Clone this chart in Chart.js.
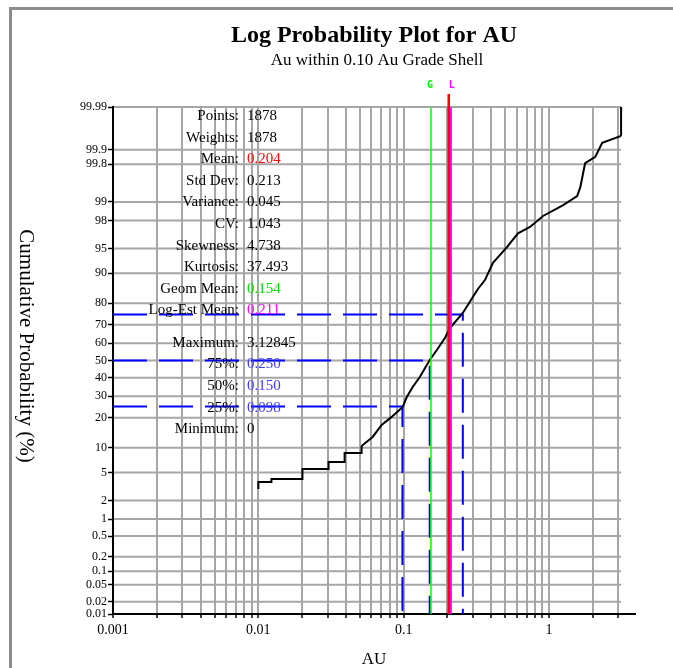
<!DOCTYPE html>
<html>
<head>
<meta charset="utf-8">
<title>Log Probability Plot for AU</title>
<script src="https://cdn.jsdelivr.net/npm/chart.js@4.4.1/dist/chart.umd.min.js"></script>
<style>
  html, body { margin: 0; padding: 0; background: #fff; }
  #wrap { position: relative; width: 673px; height: 668px; overflow: hidden; }
  #frame { position: absolute; left: 9px; top: 7px; width: 700px; height: 700px;
           border-left: 3px solid #8c8c8c; border-top: 3px solid #8c8c8c; }
  canvas { position: absolute; left: 0; top: 0; }
</style>
</head>
<body>
<div id="wrap">
  <div id="frame"></div>
  <canvas id="probChart" width="673" height="668"></canvas>
</div>
<script>
// cumulative curve: AU grade and cumulative %
// low end is a staircase of repeated detection-limit values
const lowAu  = [0.01, 0.01, 0.0123, 0.0201, 0.0304, 0.0392, 0.0513];
const lowPct = [2.98, 3.74, 4.11, 5.58, 6.84, 8.75, 10.5];
const highAu  = [0.0513, 0.0611, 0.0705, 0.0826, 0.0984, 0.105, 0.1153, 0.129, 0.151, 0.169, 0.192, 0.208,
                 0.255, 0.299, 0.324, 0.362, 0.411, 0.513, 0.611, 0.739, 0.909, 1.25, 1.56, 1.64, 1.77,
                 2.08, 2.32, 3.09, 3.128, 3.128];
const highPct = [10.5, 13.1, 17.2, 20.4, 24.8, 29.6, 34.9, 40.4, 50.3, 56.1, 62.9, 68.3,
                 75.7, 82.4, 85.3, 88.1, 92.4, 95.2, 96.9, 97.5, 98.3, 98.87, 99.21, 99.45, 99.81,
                 99.86, 99.93, 99.95, 99.953, 99.99];

// quartile guide lines
const quartilePct = [25, 50, 75];
const quartileAu  = [0.098, 0.151, 0.255];

// vertical marker lines
const meanAu = 0.204;
const geomMeanAu = 0.154;
const logEstMeanAu = 0.211;
const maxAu = 3.12845;

// statistics box
const statLabels = ['Points:', 'Weights:', 'Mean:', 'Std Dev:', 'Variance:', 'CV:', 'Skewness:', 'Kurtosis:',
                    'Geom Mean:', 'Log-Est Mean:', 'Maximum:', '75%:', '50%:', '25%:', 'Minimum:'];
const statValues = ['1878', '1878', '0.204', '0.213', '0.045', '1.043', '4.738', '37.493',
                    '0.154', '0.211', '3.12845', '0.250', '0.150', '0.098', '0'];

// axes
const probTicks = [0.01, 0.02, 0.05, 0.1, 0.2, 0.5, 1, 2, 5, 10, 20, 30, 40, 50, 60, 70, 80, 90, 95, 98, 99, 99.8, 99.9, 99.99];
const auLabels = [0.001, 0.01, 0.1, 1];
const auMin = 0.001, auMax = 3.9;
const pctMin = 0.01, pctMax = 99.99;

// inverse normal cdf (Acklam), used to place % on the probability axis
function probit(p) {
  const a = [-39.69683028665376, 220.9460984245205, -275.9285104469687, 138.3577518672690, -30.66479806614716, 2.506628277459239];
  const b = [-54.47609879822406, 161.5858368580409, -155.6989798598866, 66.80131188771972, -13.28068155288572];
  const c = [-0.007784894002430293, -0.3223964580411365, -2.400758277161838, -2.549732539343734, 4.374664141464968, 2.938163982698783];
  const d = [0.007784695709041462, 0.3224671290700398, 2.445134137142996, 3.754408661907416];
  const pl = 0.02425;
  let q, r;
  if (p < pl) {
    q = Math.sqrt(-2 * Math.log(p));
    return (((((c[0]*q+c[1])*q+c[2])*q+c[3])*q+c[4])*q+c[5]) / ((((d[0]*q+d[1])*q+d[2])*q+d[3])*q+1);
  }
  if (p <= 1 - pl) {
    q = p - 0.5; r = q * q;
    return (((((a[0]*r+a[1])*r+a[2])*r+a[3])*r+a[4])*r+a[5])*q / (((((b[0]*r+b[1])*r+b[2])*r+b[3])*r+b[4])*r+1);
  }
  q = Math.sqrt(-2 * Math.log(1 - p));
  return -(((((c[0]*q+c[1])*q+c[2])*q+c[3])*q+c[4])*q+c[5]) / ((((d[0]*q+d[1])*q+d[2])*q+d[3])*q+1);
}
const z = pct => probit(pct / 100);

const SERIF = '"Liberation Serif", "Times New Roman", serif';
const GRID = '#a6a6a6';
const statColors = ['#000', '#000', '#ff0000', '#000', '#000', '#000', '#000', '#000',
                    '#00e000', '#ff00ff', '#000', '#3c3cff', '#3c3cff', '#3c3cff', '#000'];

const toPoints = (xs, ps) => xs.map((v, i) => ({ x: v, y: z(ps[i]) }));
const markerLine = (v, color, width) => ({
  data: [{ x: v, y: z(pctMin) }, { x: v, y: z(pctMax) }],
  borderColor: color, borderWidth: width, pointRadius: 0
});
const quartileSets = quartileAu.map((v, i) => ({
  data: [{ x: auMin, y: z(quartilePct[i]) }, { x: v, y: z(quartilePct[i]) }, { x: v, y: z(pctMin) }],
  borderColor: '#0000ff', borderWidth: 2, borderDash: [34, 12], pointRadius: 0
}));

// x grid at 1..9 of every decade up to the data max
const auGrid = [];
for (let dec = 0.001; dec < 2; dec *= 10) {
  for (let m = 1; m <= 9; m++) {
    const v = +(m * dec).toPrecision(3);
    if (v <= maxAu) auGrid.push(v);
  }
}

// horizontal grid stops at the data maximum, like the original;
// drawn before the scales so the axis lines stay on top
const probGrid = {
  id: 'probGrid',
  beforeDraw(chart) {
    const ctx = chart.ctx, xs = chart.scales.x, ys = chart.scales.y;
    const x0 = chart.chartArea.left, x1 = xs.getPixelForValue(maxAu);
    ctx.save();
    ctx.strokeStyle = GRID;
    ctx.lineWidth = 2;
    probTicks.forEach(p => {
      const y = ys.getPixelForValue(z(p));
      ctx.beginPath();
      ctx.moveTo(x0, y);
      ctx.lineTo(x1, y);
      ctx.stroke();
    });
    ctx.restore();
  }
};

const decorations = {
  id: 'decorations',
  afterDraw(chart) {
    const ctx = chart.ctx;
    const xs = chart.scales.x, area = chart.chartArea;
    ctx.save();
    ctx.textBaseline = 'alphabetic';
    ctx.fillStyle = '#000';
    ctx.textAlign = 'center';
    ctx.font = 'bold 24px ' + SERIF;
    ctx.fillText('Log Probability Plot for AU', 374, 42);
    ctx.font = '17px ' + SERIF;
    ctx.fillText('Au within 0.10 Au Grade Shell', 377, 65);

    // G / L flags and the red mean tick above the plot
    ctx.font = 'bold 10px "DejaVu Sans Mono", monospace';
    ctx.fillStyle = '#00ff00';
    ctx.fillText('G', xs.getPixelForValue(geomMeanAu) - 1, 88);
    ctx.fillStyle = '#ff00ff';
    ctx.fillText('L', xs.getPixelForValue(logEstMeanAu) + 1, 88);
    ctx.strokeStyle = '#ff0000';
    ctx.lineWidth = 2.5;
    ctx.beginPath();
    const mx = xs.getPixelForValue(meanAu);
    ctx.moveTo(mx, area.top - 13);
    ctx.lineTo(mx, area.top);
    ctx.stroke();

    // statistics
    ctx.font = '15px ' + SERIF;
    statLabels.forEach((lab, i) => {
      const y = 120 + 21.6 * (i < 10 ? i : i + 0.5);
      ctx.textAlign = 'right';
      ctx.fillStyle = '#000';
      ctx.fillText(lab, 239, y);
      ctx.textAlign = 'left';
      ctx.fillStyle = statColors[i];
      ctx.fillText(statValues[i], 247, y);
    });

    // axis titles
    ctx.fillStyle = '#000';
    ctx.textAlign = 'center';
    ctx.font = '17px ' + SERIF;
    ctx.fillText('AU', 374, 664);
    ctx.translate(26, 346);
    ctx.rotate(Math.PI / 2);
    ctx.textBaseline = 'middle';
    ctx.font = '21px ' + SERIF;
    ctx.fillText('Cumulative Probability (%)', 0, 0);
    ctx.restore();
  }
};

new Chart(document.getElementById('probChart'), {
  type: 'line',
  data: {
    datasets: [
      markerLine(meanAu, '#ff0000', 2.5),
      markerLine(logEstMeanAu, '#ff00ff', 2),
      markerLine(geomMeanAu, '#00ff00', 1.5),
      { data: toPoints(lowAu, lowPct), borderColor: '#000', borderWidth: 2, pointRadius: 0, stepped: 'before' },
      { data: toPoints(highAu, highPct), borderColor: '#000', borderWidth: 2, pointRadius: 0 },
      ...quartileSets
    ]
  },
  options: {
    responsive: false,
    animation: false,
    layout: { padding: { left: 0, top: 107, right: 38, bottom: 0 } },
    plugins: { legend: { display: false }, tooltip: { enabled: false } },
    scales: {
      x: {
        type: 'logarithmic',
        min: auMin,
        max: auMax,
        afterBuildTicks: s => { s.ticks = auGrid.map(v => ({ value: v })); },
        afterFit: s => { s.height = 54; },
        grid: { color: GRID, lineWidth: 2, tickLength: 4, tickColor: '#000', tickWidth: 1.5 },
        border: { color: '#000', width: 2 },
        ticks: {
          autoSkip: false, maxRotation: 0, padding: 4, color: '#000',
          font: { family: SERIF, size: 14 },
          callback: v => auLabels.some(l => Math.abs(l - v) < l * 1e-6) ? String(v) : ''
        }
      },
      y: {
        type: 'linear',
        min: z(pctMin),
        max: z(pctMax),
        afterBuildTicks: s => { s.ticks = probTicks.map(p => ({ value: z(p) })); },
        afterFit: s => { s.width = 113; },
        grid: { drawOnChartArea: false, tickLength: 5, tickColor: '#000', tickWidth: 1.5 },
        border: { color: '#000', width: 2 },
        ticks: {
          autoSkip: false, padding: 1, color: '#000',
          font: { family: SERIF, size: 12 },
          callback: (v, i) => String(probTicks[i])
        }
      }
    }
  },
  plugins: [probGrid, decorations]
});
</script>
</body>
</html>
